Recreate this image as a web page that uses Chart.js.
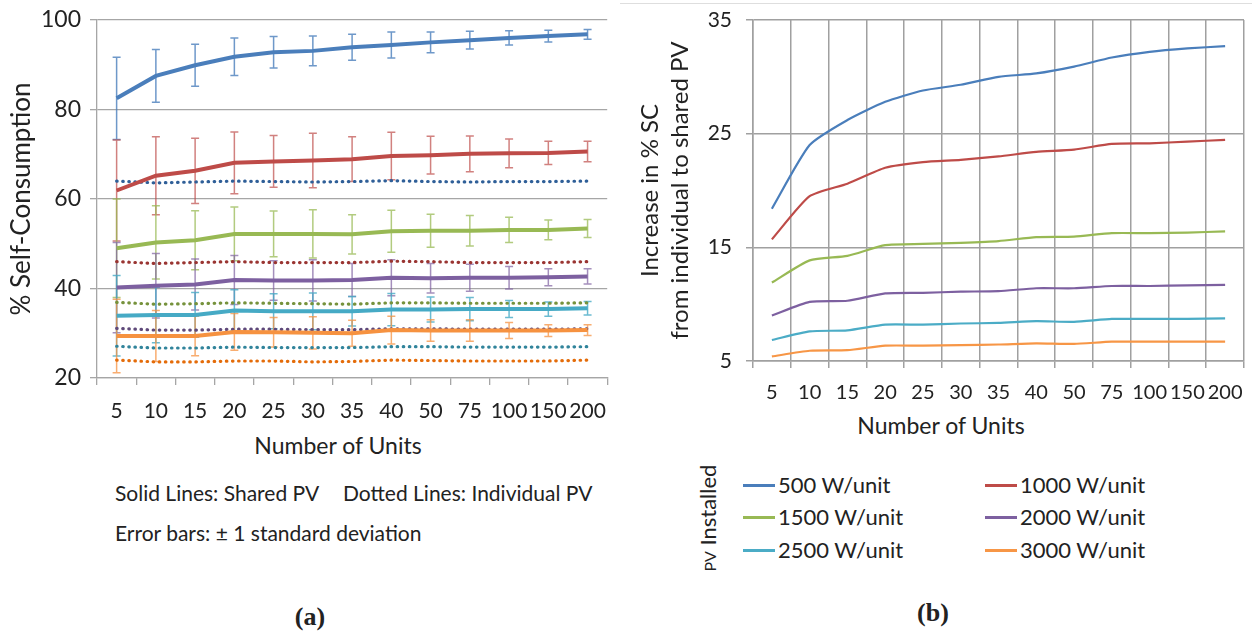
<!DOCTYPE html>
<html>
<head>
<meta charset="utf-8">
<script src="https://cdn.jsdelivr.net/npm/chart.js@4.4.1/dist/chart.umd.min.js"></script>
<style>
  body { margin: 0; background: #fff; }
  #wrap { position: relative; width: 1256px; height: 634px; overflow: hidden; font-family: Lato, "Open Sans", sans-serif; color: #222; }
  .abs { position: absolute; white-space: nowrap; }
  .mid { height: 30px; line-height: 30px; }
  .cap { font-family: "Liberation Serif", serif; font-weight: bold; font-size: 26px; }
  .leg-line { position: absolute; height: 3px; width: 32px; }
</style>
</head>
<body>
<div id="wrap">
  <canvas id="chartA" class="abs" style="left:0;top:0" width="620" height="430"></canvas>
  <canvas id="chartB" class="abs" style="left:620px;top:0" width="636" height="410"></canvas>
  <div class="abs" style="left:620px;top:3px;width:632px;height:1px;background:#dedede"></div>

  <div class="abs mid" style="left:238px;top:430px;width:200px;text-align:center;font-size:23px">Number of Units</div>
  <div class="abs mid" style="left:115px;top:478px;font-size:21px">Solid Lines: Shared PV</div>
  <div class="abs mid" style="left:343px;top:478px;font-size:21px">Dotted Lines: Individual PV</div>
  <div class="abs mid" style="left:115px;top:518px;font-size:21px">Error bars: ± 1 standard deviation</div>
  <div class="abs mid cap" style="left:260px;top:602px;width:100px;text-align:center">(a)</div>

  <div class="abs mid" style="left:841px;top:410px;width:200px;text-align:center;font-size:23px">Number of Units</div>
  <div class="abs mid" style="left:648px;top:503px;width:120px;text-align:center;font-size:22px;transform:rotate(-90deg)"><span style="font-size:16px">PV</span> Installed</div>
  <div id="legendB"></div>
  <div class="abs mid cap" style="left:883px;top:598px;width:100px;text-align:center">(b)</div>
</div>

<script>
const units = ['5', '10', '15', '20', '25', '30', '35', '40', '50', '75', '100', '150', '200'];
const pvLabels = ['500 W/unit', '1000 W/unit', '1500 W/unit', '2000 W/unit', '2500 W/unit', '3000 W/unit'];

// (a) shared PV self-consumption, mean and standard deviation
const shared500 = [82.5, 87.5, 89.9, 91.8, 92.8, 93.1, 93.9, 94.4, 95.0, 95.5, 96.0, 96.4, 96.8];
const sd500 = [9.2, 5.9, 4.7, 4.2, 3.5, 3.3, 2.9, 2.9, 2.3, 2.0, 1.6, 1.3, 1.1];
const shared1000 = [61.9, 65.2, 66.3, 68.1, 68.4, 68.6, 68.9, 69.6, 69.8, 70.1, 70.2, 70.3, 70.6];
const sd1000 = [11.3, 8.7, 7.3, 6.9, 5.8, 6.1, 5.0, 5.3, 4.2, 4.0, 3.2, 2.6, 2.3];
const shared1500 = [49.0, 50.3, 50.8, 52.2, 52.2, 52.2, 52.1, 52.8, 52.9, 52.9, 53.1, 53.1, 53.4];
const sd1500 = [11.0, 8.2, 6.6, 6.0, 5.1, 5.4, 4.4, 4.7, 3.7, 3.4, 2.8, 2.2, 2.0];
const shared2000 = [40.2, 40.6, 40.9, 41.9, 41.8, 41.8, 41.9, 42.4, 42.3, 42.4, 42.4, 42.5, 42.7];
const sd2000 = [10.1, 7.2, 5.7, 5.5, 4.4, 4.6, 3.7, 4.0, 3.3, 3.0, 2.5, 1.9, 1.7];
const shared2500 = [33.9, 34.1, 34.1, 35.1, 34.9, 34.9, 34.9, 35.3, 35.3, 35.4, 35.4, 35.4, 35.6];
const sd2500 = [9.0, 6.2, 5.0, 4.6, 3.9, 4.1, 3.3, 3.6, 2.8, 2.6, 1.9, 1.6, 1.5];
const shared3000 = [29.4, 29.4, 29.4, 30.3, 30.2, 30.1, 30.0, 30.7, 30.6, 30.6, 30.6, 30.6, 30.7];
const sd3000 = [8.2, 5.7, 4.4, 4.1, 3.3, 3.6, 2.9, 3.1, 2.4, 2.4, 1.8, 1.3, 1.2];

// (a) individual PV self-consumption
const indiv500 = [64.0, 63.6, 63.8, 64.0, 63.9, 63.8, 63.9, 64.1, 63.9, 63.8, 63.9, 63.9, 64.0];
const indiv1000 = [46.0, 45.6, 45.8, 46.0, 45.8, 45.8, 45.8, 46.1, 46.0, 45.8, 45.8, 45.8, 46.0];
const indiv1500 = [36.9, 36.5, 36.6, 36.8, 36.7, 36.6, 36.5, 36.8, 36.8, 36.7, 36.7, 36.7, 36.8];
const indiv2000 = [31.1, 30.7, 30.7, 30.9, 30.9, 30.8, 30.8, 31.0, 31.0, 30.9, 30.9, 30.9, 31.0];
const indiv2500 = [27.1, 26.7, 26.7, 26.9, 26.8, 26.8, 26.8, 27.0, 27.0, 26.9, 26.9, 26.9, 27.0];
const indiv3000 = [24.0, 23.6, 23.6, 23.8, 23.8, 23.6, 23.7, 24.0, 23.9, 23.8, 23.8, 23.8, 24.0];

// (b) increase in % SC from individual to shared PV
const inc500 = [18.4, 24.0, 26.2, 27.8, 28.8, 29.3, 30.0, 30.3, 30.9, 31.7, 32.2, 32.5, 32.7];
const inc1000 = [15.7, 19.5, 20.6, 22.0, 22.5, 22.7, 23.0, 23.4, 23.6, 24.1, 24.15, 24.3, 24.45];
const inc1500 = [11.9, 13.85, 14.25, 15.2, 15.3, 15.4, 15.55, 15.9, 15.95, 16.25, 16.25, 16.3, 16.4];
const inc2000 = [9.0, 10.2, 10.3, 10.95, 11.0, 11.1, 11.15, 11.4, 11.4, 11.6, 11.6, 11.65, 11.7];
const inc2500 = [6.85, 7.6, 7.7, 8.2, 8.2, 8.3, 8.35, 8.5, 8.45, 8.7, 8.7, 8.7, 8.75];
const inc3000 = [5.4, 5.9, 5.95, 6.35, 6.35, 6.4, 6.45, 6.55, 6.5, 6.7, 6.7, 6.7, 6.7];

const solidColors = ['#4A7EBB', '#BE4B48', '#98B954', '#7D60A0', '#46AAC5', '#F69240'];
const dottedColors = ['#2F5F98', '#9A3532', '#76923C', '#5F497A', '#31849B', '#E46C0A'];
const errColors = ['rgba(74,126,187,0.8)', 'rgba(190,75,72,0.7)', 'rgba(152,185,84,0.75)', 'rgba(125,96,160,0.7)', 'rgba(70,170,197,0.8)', 'rgba(246,146,64,0.75)'];

Chart.defaults.font.family = 'Lato, "Open Sans", sans-serif';
Chart.defaults.color = '#222';

// draws +/- sd whiskers behind the lines, using the chart's own scales
const errorBars = {
  id: 'errorBars',
  beforeDatasetsDraw(chart) {
    const ctx = chart.ctx;
    const y = chart.scales.y;
    chart.data.datasets.forEach((ds, i) => {
      if (!ds.errors) return;
      const meta = chart.getDatasetMeta(i);
      ctx.save();
      ctx.strokeStyle = ds.errorColor;
      ctx.lineWidth = 1.5;
      meta.data.forEach((pt, k) => {
        const top = y.getPixelForValue(ds.data[k] + ds.errors[k]);
        const bot = y.getPixelForValue(ds.data[k] - ds.errors[k]);
        ctx.beginPath();
        ctx.moveTo(pt.x, top); ctx.lineTo(pt.x, bot);
        ctx.moveTo(pt.x - 4, top); ctx.lineTo(pt.x + 4, top);
        ctx.moveTo(pt.x - 4, bot); ctx.lineTo(pt.x + 4, bot);
        ctx.stroke();
      });
      ctx.restore();
    });
  }
};

const sharedA = [shared500, shared1000, shared1500, shared2000, shared2500, shared3000];
const sdA = [sd500, sd1000, sd1500, sd2000, sd2500, sd3000];
const indivA = [indiv500, indiv1000, indiv1500, indiv2000, indiv2500, indiv3000];

let datasetsA = [];
sharedA.forEach((d, i) => {
  datasetsA.push({
    label: 'Shared ' + pvLabels[i],
    data: d,
    errors: sdA[i],
    errorColor: errColors[i],
    borderColor: solidColors[i],
    borderWidth: 4,
    pointRadius: 0,
    fill: false,
    order: 1,
  });
});
indivA.forEach((d, i) => {
  datasetsA.push({
    label: 'Individual ' + pvLabels[i],
    data: d,
    borderColor: dottedColors[i],
    borderWidth: 3.2,
    borderDash: [0.5, 5.6],
    borderCapStyle: 'round',
    pointRadius: 0,
    fill: false,
    order: 2,
  });
});

// y axis width fixed, and the label padding is kept out of the top/bottom overflow
function fixY(width) {
  return (s) => {
    s.width = width;
    s.paddingTop = 8;
    s.paddingBottom = 8;
  };
}

new Chart(document.getElementById('chartA'), {
  type: 'line',
  data: { labels: units, datasets: datasetsA },
  plugins: [errorBars],
  options: {
    responsive: false,
    animation: false,
    devicePixelRatio: 1,
    layout: { padding: { top: 20, right: 4, left: 0, bottom: 0 } },
    plugins: { legend: { display: false }, tooltip: { enabled: false } },
    scales: {
      x: {
        offset: true,
        afterFit: (s) => { s.height = 52; },
        grid: { offset: true, drawOnChartArea: false, tickLength: 7, color: '#a6a6a6', lineWidth: 1.3 },
        border: { color: '#a6a6a6', width: 1.3 },
        ticks: { autoSkip: false, maxRotation: 0, padding: 14, font: { size: 21 } },
      },
      y: {
        min: 20, max: 100,
        afterFit: fixY(97),
        grid: { tickLength: 7, color: '#a6a6a6', lineWidth: 1.3 },
        border: { color: '#a6a6a6', width: 1.3 },
        ticks: { stepSize: 20, padding: 9, font: { size: 23 } },
        title: { display: true, text: '% Self-Consumption', font: { size: 26 }, padding: { top: 6, bottom: 0 } },
      },
    },
  },
});

const incB = [inc500, inc1000, inc1500, inc2000, inc2500, inc3000];
const colorsB = ['#4A7EBB', '#BE4B48', '#98B954', '#7D60A0', '#4BACC6', '#F79646'];

new Chart(document.getElementById('chartB'), {
  type: 'line',
  data: {
    labels: units,
    datasets: incB.map((d, i) => ({
      label: pvLabels[i],
      data: d,
      borderColor: colorsB[i],
      borderWidth: 2.2,
      pointRadius: 0,
      tension: 0.2,
      fill: false,
    })),
  },
  options: {
    responsive: false,
    animation: false,
    devicePixelRatio: 1,
    layout: { padding: { top: 20, right: 12, left: 0, bottom: 0 } },
    plugins: { legend: { display: false }, tooltip: { enabled: false } },
    scales: {
      x: {
        offset: true,
        afterFit: (s) => { s.height = 49; },
        grid: { offset: true, tickLength: 7, color: '#a0a0a0', lineWidth: 1.5 },
        border: { color: '#a0a0a0', width: 1.5 },
        ticks: { autoSkip: false, maxRotation: 0, padding: 13, font: { size: 20 } },
      },
      y: {
        min: 5, max: 35,
        afterFit: fixY(133),
        grid: { tickLength: 7, color: '#a0a0a0', lineWidth: 1.5 },
        border: { color: '#a0a0a0', width: 1.5 },
        ticks: { stepSize: 10, padding: 14, font: { size: 21 } },
        title: {
          display: true,
          text: ['Increase in % SC', 'from individual to shared PV'],
          font: { size: 24, lineHeight: '30px' },
          padding: { top: 15, bottom: 0 },
        },
      },
    },
  },
});

// legend for (b), two columns of three rows
const legendB = document.getElementById('legendB');
const legX = [743, 985];
const legY = [485, 517, 550];
pvLabels.forEach((name, i) => {
  const col = i % 2, row = Math.floor(i / 2);
  const line = document.createElement('div');
  line.className = 'leg-line';
  line.style.left = legX[col] + 'px';
  line.style.top = (legY[row] - 1) + 'px';
  line.style.background = colorsB[i];
  legendB.appendChild(line);
  const txt = document.createElement('div');
  txt.className = 'abs mid';
  txt.style.left = (legX[col] + 35) + 'px';
  txt.style.top = (legY[row] - 15) + 'px';
  txt.style.fontSize = '22px';
  txt.textContent = name;
  legendB.appendChild(txt);
});
</script>
</body>
</html>
